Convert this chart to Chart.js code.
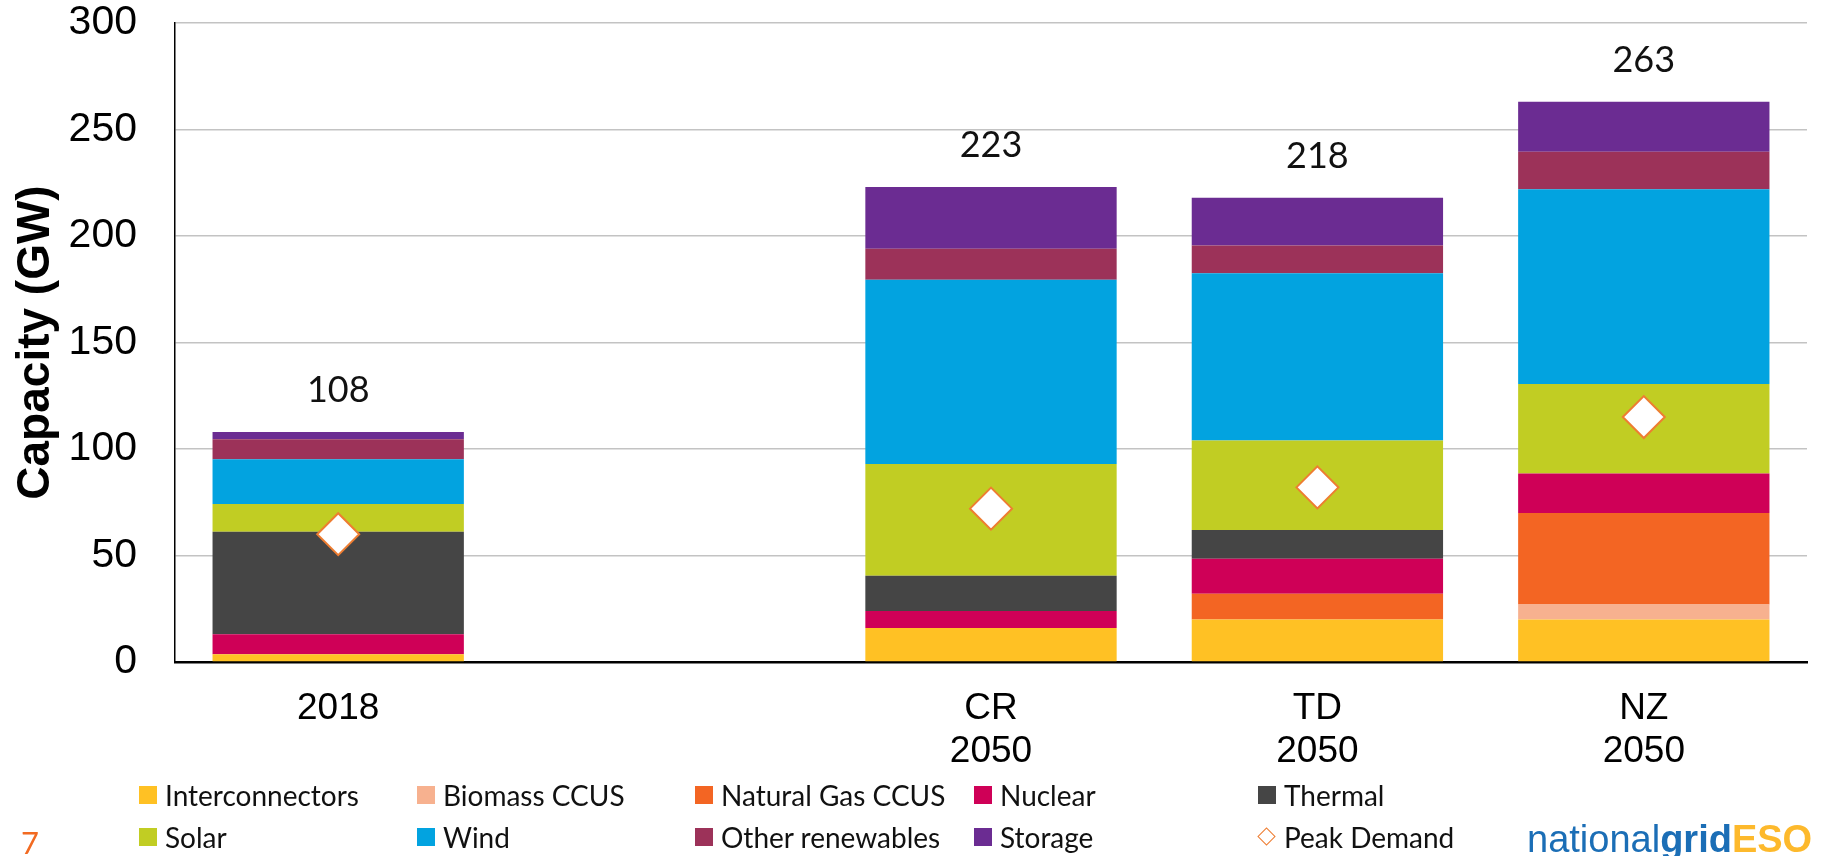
<!DOCTYPE html>
<html>
<head>
<meta charset="utf-8">
<script src="https://cdn.jsdelivr.net/npm/chart.js@4.4.1/dist/chart.umd.min.js"></script>
<style>
  html, body { margin: 0; padding: 0; background: #ffffff; }
  #wrap { position: relative; width: 1822px; height: 856px; overflow: hidden; background: #fff; }
  #c { position: absolute; left: 0; top: 0; }
  .lg { position: absolute; font-family: 'Lato', 'Liberation Sans', sans-serif; font-size: 28px; color: #111; white-space: nowrap; line-height: 1; }
  .sw { position: absolute; width: 18px; height: 18px; }
  .lt { position: absolute; }
  #pg { position: absolute; left: 21px; top: 823px; font-family: 'Lato', sans-serif; font-size: 31px; color: #F26A21; }
  #logo { position: absolute; left: 1527px; top: 818px; font-family: 'Liberation Sans', Arial, sans-serif; font-size: 38px; letter-spacing: 0px; white-space: nowrap; }
</style>
</head>
<body>
<div id="wrap">
  <canvas id="c" width="1822" height="856"></canvas>
  <div id="legend"></div>
  <div id="pg">7</div>
  <div id="logo"><span style="color:#1B6EB6">national</span><span style="color:#1B6EB6;font-weight:bold">grid</span><span style="color:#FDB92C;font-weight:bold">ESO</span></div>
</div>
<script>
// ---- data ----
const categories = ["2018", "", ["CR", "2050"], ["TD", "2050"], ["NZ", "2050"]];
const interconnectors = [3.6, null, 16, 20, 20];
const biomassCCUS     = [0, null, 0, 0, 7];
const naturalGasCCUS  = [0, null, 0, 12, 43];
const nuclear         = [9.4, null, 8, 16.5, 18.5];
const thermal         = [48.2, null, 16.5, 13.5, 0];
const solar           = [13, null, 52.5, 42, 42];
const wind            = [21, null, 86.5, 78.5, 91.5];
const otherRenewables = [9.4, null, 14.5, 13, 17.5];
const storage         = [3.4, null, 29, 22.5, 23.5];
const peakDemand      = [60, null, 72, 82, 115];
const totals          = [108, null, 223, 218, 263];
const yTicks          = [0, 50, 100, 150, 200, 250, 300];

const seriesNames = ["Interconnectors", "Biomass CCUS", "Natural Gas CCUS", "Nuclear", "Thermal",
                     "Solar", "Wind", "Other renewables", "Storage"];
const seriesData  = [interconnectors, biomassCCUS, naturalGasCCUS, nuclear, thermal,
                     solar, wind, otherRenewables, storage];
const seriesColors = ["#FFC124", "#F7B18F", "#F36523", "#CF0057", "#454545",
                      "#C1CD23", "#02A3E0", "#9C3259", "#6B2C92"];
const peakName = "Peak Demand";
const peakColor = "#EE7D31";

const datasets = seriesNames.map((n, i) => ({
  type: 'bar',
  label: n,
  data: seriesData[i],
  backgroundColor: seriesColors[i],
  borderWidth: 0,
  stack: 'cap',
  categoryPercentage: 1.0,
  barPercentage: 0.77
}));
datasets.push({
  type: 'line',
  label: peakName,
  data: peakDemand,
  stack: 'peak',
  showLine: false,
  pointStyle: 'rectRot',
  pointRadius: 21,
  pointHoverRadius: 21,
  pointBackgroundColor: '#ffffff',
  pointBorderColor: peakColor,
  pointBorderWidth: 2,
  order: -1
});

const totalsPlugin = {
  id: 'totals',
  afterDatasetsDraw(chart) {
    const { ctx, scales: { x, y } } = chart;
    ctx.save();
    ctx.font = '36px Lato';
    ctx.fillStyle = '#111';
    ctx.textAlign = 'center';
    ctx.textBaseline = 'alphabetic';
    totals.forEach((t, i) => {
      if (t == null) return;
      ctx.fillText(String(t), x.getPixelForValue(i), y.getPixelForValue(t) - 30);
    });
    ctx.restore();
  }
};

new Chart(document.getElementById('c'), {
  data: { labels: categories, datasets },
  plugins: [totalsPlugin],
  options: {
    responsive: false,
    animation: false,
    devicePixelRatio: 1,
    layout: { autoPadding: false, padding: { left: 0, right: 15, top: 23, bottom: 0 } },
    plugins: { legend: { display: false }, tooltip: { enabled: false } },
    scales: {
      x: {
        stacked: true,
        grid: { display: false, drawTicks: false },
        border: { display: true, color: '#000', width: 2.5 },
        ticks: {
          color: '#000',
          font: { family: 'Liberation Sans', size: 37, lineHeight: 1.15 },
          padding: 26,
          maxRotation: 0,
          autoSkip: false
        },
        afterFit(s) { s.height = 194; s.paddingLeft = 0; s.paddingRight = 0; }
      },
      y: {
        stacked: true,
        min: 0, max: 300,
        afterBuildTicks(s) { s.ticks = yTicks.map(v => ({ value: v })); },
        grid: { color: '#C3C3C3', lineWidth: 1.5, drawTicks: false },
        border: { display: true, color: '#000', width: 1.5 },
        ticks: {
          color: '#000',
          font: { family: 'Liberation Sans', size: 41, lineHeight: 1 },
          padding: 38
        },
        title: {
          display: true,
          text: 'Capacity (GW)',
          color: '#000',
          font: { family: 'Liberation Sans', size: 46, weight: 'bold', lineHeight: 1.2 },
          padding: { top: 9, bottom: 0 }
        },
        afterFit(s) { s.width = 175; s.paddingTop = 0; s.paddingBottom = 0; }
      }
    }
  }
});

// ---- legend (HTML, built from the series arrays) ----
const legend = document.getElementById('legend');
const colX = [139, 417, 695, 974, 1258];
const rowY = [795, 837];
const items = seriesNames.map((n, i) => ({ name: n, color: seriesColors[i] }));
items.push({ name: peakName, color: null });
items.forEach((it, i) => {
  const r = Math.floor(i / 5), c = i % 5;
  const d = document.createElement('div');
  d.className = 'lg';
  d.style.left = colX[c] + 'px';
  d.style.top = (rowY[r] - 14) + 'px';
  if (it.color) {
    const s = document.createElement('div');
    s.className = 'sw';
    s.style.background = it.color;
    s.style.left = '0px'; s.style.top = '5px';
    d.appendChild(s);
  } else {
    const s = document.createElement('div');
    s.className = 'sw';
    s.style.width = '11px'; s.style.height = '11px';
    s.style.border = '1.5px solid ' + peakColor;
    s.style.background = '#fff';
    s.style.transform = 'rotate(45deg)';
    s.style.left = '2px'; s.style.top = '7px';
    d.appendChild(s);
  }
  const t = document.createElement('span');
  t.className = 'lt';
  t.style.left = '26px'; t.style.top = '0px';
  t.textContent = it.name;
  d.appendChild(t);
  legend.appendChild(d);
});
</script>
</body>
</html>
